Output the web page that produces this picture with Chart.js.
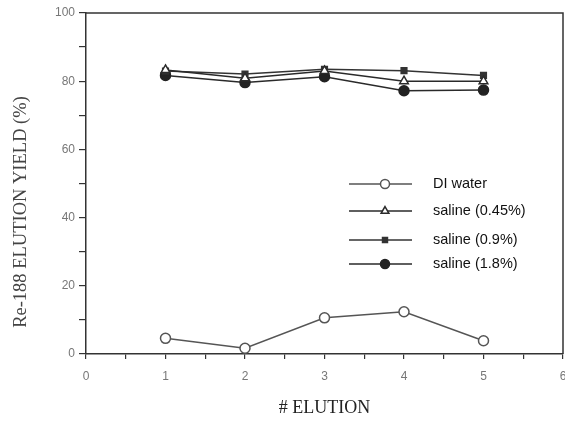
<!DOCTYPE html>
<html>
<head>
<meta charset="utf-8">
<script src="https://cdn.jsdelivr.net/npm/chart.js@4.4.0/dist/chart.umd.min.js"></script>
<style>
  html, body { margin: 0; padding: 0; background: #fff; overflow: hidden; }
  #wrap { width: 565px; height: 423px; overflow: hidden; }
</style>
</head>
<body>
<div id="wrap"><canvas id="elutionChart" width="573" height="423"></canvas></div>
<script>
// values
const elutions = [1, 2, 3, 4, 5];
const diWater = [4.6, 1.7, 10.6, 12.4, 3.9];
const saline045 = [83.3, 80.9, 83.0, 80.0, 80.0];
const saline09 = [83.0, 82.1, 83.5, 83.1, 81.7];
const saline18 = [81.7, 79.6, 81.3, 77.2, 77.4];
const seriesNames = ['DI water', 'saline (0.45%)', 'saline (0.9%)', 'saline (1.8%)'];
const xMax = 6;

function pts(vals) {
    return elutions.map((x, i) => ({ x: x, y: vals[i] }));
}

const ink = '#2a2a2a';
const styles = [
    { style: 'circle', radius: 5, bg: '#fff', border: '#555', line: '#555' },
    { style: 'triangle', radius: 5, bg: '#fff', border: ink, line: ink },
    { style: 'rect', radius: 4, bg: '#333', border: '#333', line: '#333' },
    { style: 'circle', radius: 5, bg: '#222', border: '#222', line: ink }
];
const allValues = [diWater, saline045, saline09, saline18];
const tickFont = '12px Arial, "Liberation Sans", sans-serif';

// frame, last x label, y title and legend inside the plot
const frameAndLegend = {
    id: 'frameAndLegend',
    afterDraw(chart) {
        const ctx = chart.ctx;
        const a = chart.chartArea;
        ctx.save();
        ctx.strokeStyle = '#333';
        ctx.lineWidth = 1.5;
        ctx.beginPath();
        ctx.moveTo(a.left, a.top);
        ctx.lineTo(a.right, a.top);
        ctx.lineTo(a.right, a.bottom);
        ctx.stroke();

        // last x tick label sits on the page edge
        ctx.font = tickFont;
        ctx.fillStyle = '#777';
        ctx.textAlign = 'center';
        ctx.textBaseline = 'middle';
        ctx.fillText(String(xMax), chart.scales.x.getPixelForValue(xMax), a.bottom + 23);

        // y axis title
        ctx.save();
        ctx.translate(21, 212);
        ctx.rotate(-Math.PI / 2);
        ctx.font = '18.5px "Liberation Serif", "DejaVu Serif", serif';
        ctx.fillStyle = '#444';
        ctx.textAlign = 'center';
        ctx.textBaseline = 'middle';
        ctx.fillText('Re-188 ELUTION YIELD (%)', 0, 0);
        ctx.restore();

        const rows = [184, 211, 240, 264];
        ctx.font = '14.5px Arial, "Liberation Sans", sans-serif';
        ctx.textAlign = 'left';
        ctx.textBaseline = 'middle';
        rows.forEach((y, i) => {
            const s = styles[i];
            ctx.strokeStyle = s.line;
            ctx.lineWidth = 1.5;
            ctx.beginPath();
            ctx.moveTo(349, y);
            ctx.lineTo(412, y);
            ctx.stroke();
            ctx.fillStyle = s.bg;
            ctx.strokeStyle = s.border;
            Chart.helpers.drawPoint(ctx, {
                pointStyle: s.style, radius: s.radius - 0.5, borderWidth: 1.5, rotation: 0
            }, 385, y);
            ctx.fillStyle = '#111';
            ctx.fillText(seriesNames[i], 433, y);
        });
        ctx.restore();
    }
};

new Chart(document.getElementById('elutionChart'), {
    type: 'line',
    data: {
        datasets: allValues.map((vals, i) => ({
            label: seriesNames[i],
            data: pts(vals),
            borderColor: styles[i].line,
            borderWidth: 1.5,
            pointStyle: styles[i].style,
            pointRadius: styles[i].radius,
            pointBackgroundColor: styles[i].bg,
            pointBorderColor: styles[i].border,
            pointBorderWidth: 1.5,
            tension: 0
        }))
    },
    options: {
        responsive: false,
        animation: false,
        layout: { padding: { top: 13, right: 3, left: 0, bottom: 0 } },
        plugins: { legend: { display: false }, tooltip: { enabled: false } },
        scales: {
            x: {
                type: 'linear',
                min: 0, max: xMax,
                afterFit(scale) { scale.height = 69; },
                ticks: {
                    stepSize: 0.5,
                    autoSkip: false,
                    maxRotation: 0,
                    padding: 10,
                    color: '#777',
                    font: { family: 'Arial, "Liberation Sans", sans-serif', size: 12 },
                    callback: v => (Number.isInteger(v) && v !== xMax) ? v : ''
                },
                grid: { drawOnChartArea: false, tickLength: 5, color: '#333', lineWidth: 1.2 },
                border: { color: '#333', width: 1.5 },
                title: {
                    display: true,
                    text: '# ELUTION',
                    color: '#222',
                    font: { family: '"Liberation Serif", "DejaVu Serif", serif', size: 18 },
                    padding: { top: 8 }
                }
            },
            y: {
                min: 0, max: 100,
                afterFit(scale) { scale.width = 86; },
                ticks: {
                    stepSize: 10,
                    padding: 4,
                    color: '#777',
                    font: { family: 'Arial, "Liberation Sans", sans-serif', size: 12 },
                    callback: v => v % 20 === 0 ? v : ''
                },
                grid: { drawOnChartArea: false, tickLength: 7, color: '#333', lineWidth: 1.2 },
                border: { color: '#333', width: 1.5 },
                title: { display: false }
            }
        }
    },
    plugins: [frameAndLegend]
});
</script>
</body>
</html>
